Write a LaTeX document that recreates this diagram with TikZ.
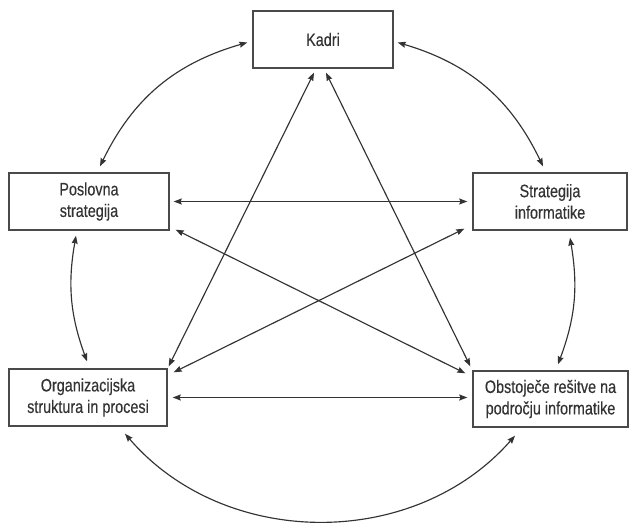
\documentclass[tikz,border=0pt]{standalone}
\usepackage{fontspec}
\setmainfont{Liberation Sans}[FakeStretch=0.8,FakeBold=0.25]
\usetikzlibrary{arrows.meta}
\definecolor{ink}{HTML}{333333}
\definecolor{boxline}{HTML}{4A4A4A}
\tikzset{
  box/.style={draw=boxline, line width=1.4pt, fill=white, align=center, inner sep=0pt,
    text=ink, font=\fontsize{18}{21.5}\selectfont},
  link/.style={draw=ink, line width=1.15pt, {Stealth[length=8pt,width=6pt,inset=1pt]}-{Stealth[length=8pt,width=6pt,inset=1pt]}}
}
\begin{document}
\begin{tikzpicture}[x=1pt,y=1pt]
\fill[white] (0,0) rectangle (631,523);
\useasboundingbox (0,0) rectangle (631,523);

\node[box, minimum width=140pt, minimum height=57pt] (kadri) at (323,483.5) {Kadri};
\node[box, minimum width=160pt, minimum height=57pt] (posl) at (89,321.5) {Poslovna\\strategija};
\node[box, minimum width=154pt, minimum height=57pt] (strat) at (550,321.5) {Strategija\\informatike};
\node[box, minimum width=158pt, minimum height=57pt] (org) at (88,125.5) {Organizacijska\\struktura in procesi};
\node[box, minimum width=155pt, minimum height=56pt] (obst) at (550.5,124) {Obstoječe rešitve na\\področju informatike};

% curved outer arrows
\draw[link] ([shift={(-5pt,-3pt)}]kadri.west) to[bend right=24] ([shift={(11pt,6pt)}]posl.north);
\draw[link] ([shift={(4pt,-3pt)}]kadri.east) to[bend left=24] ([shift={(-7pt,6pt)}]strat.north);
\draw[link] ([shift={(-13pt,-5pt)}]posl.south) to[bend right=15] ([shift={(-1pt,7pt)}]org.north);
\draw[link] ([shift={(20pt,-7pt)}]strat.south) to[bend left=15] ([shift={(7.5pt,6pt)}]obst.north);
\draw[link] ([shift={(37pt,-7pt)}]org.south) to[bend right=49] ([shift={(-35.5pt,-8pt)}]obst.south);

% straight arrows
\draw[link] ([shift={(-9pt,-4pt)}]kadri.south) -- ([shift={(1pt,2pt)}]org.north east);
\draw[link] ([shift={(3pt,-4pt)}]kadri.south) -- ([shift={(-2pt,4pt)}]obst.north west);
\draw[link] ([shift={(4pt,0pt)}]posl.east) -- ([shift={(-5pt,0pt)}]strat.west);
\draw[link] ([shift={(6pt,1pt)}]posl.south east) -- ([shift={(-7pt,-3pt)}]obst.north west);
\draw[link] ([shift={(-8pt,2pt)}]strat.south west) -- ([shift={(6pt,-4pt)}]org.north east);
\draw[link] ([shift={(5pt,0pt)}]org.east) -- ([shift={(-5pt,0pt)}]org.east -| obst.west);
\end{tikzpicture}
\end{document}
